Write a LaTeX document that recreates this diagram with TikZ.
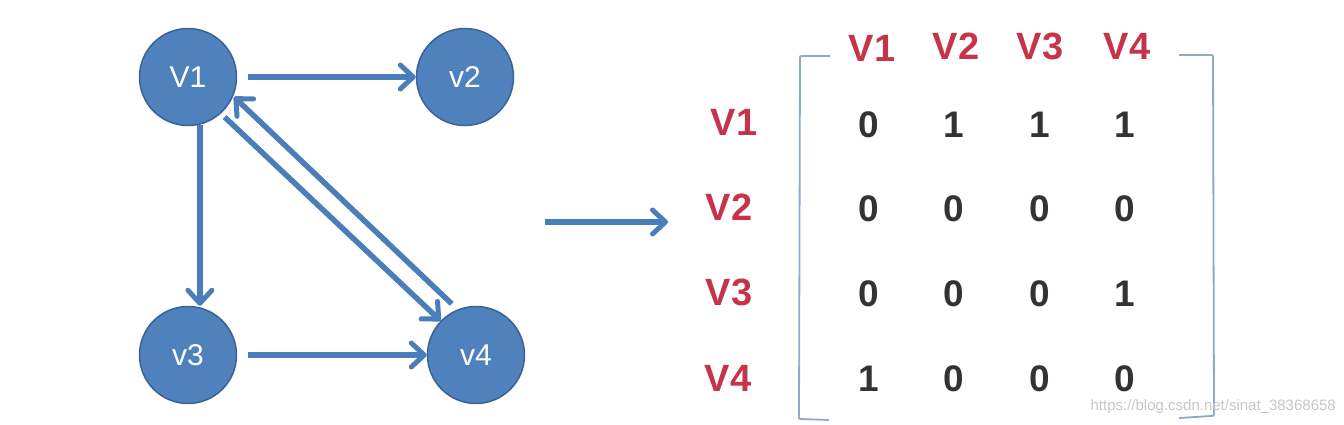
\documentclass[tikz,border=0pt]{standalone}
\usepackage{fontspec}
\setmainfont{Liberation Sans}
\usetikzlibrary{arrows.meta}
\definecolor{nodeblue}{HTML}{4F81BD}
\definecolor{nodeedge}{HTML}{3A6396}
\definecolor{arrowblue}{HTML}{4A7EBB}
\definecolor{hdrred}{HTML}{C5344B}
\definecolor{digit}{HTML}{333333}
\definecolor{bracket}{HTML}{8EA9CB}
\tikzset{
  vertex/.style={circle, fill=nodeblue, draw=nodeedge, line width=1.5pt,
    minimum size=97pt, inner sep=0pt, text=white, font=\fontsize{30}{30}\selectfont},
  edgearrow/.style={draw=arrowblue, line width=5.5pt,
    -{Straight Barb[length=13pt,width=24pt,line width=5pt, round]}},
  hdr/.style={text=hdrred, font=\fontsize{38}{38}\selectfont\bfseries, inner sep=0pt},
  entry/.style={text=digit, font=\fontsize{37}{37}\selectfont\bfseries, inner sep=0pt},
  brk/.style={draw=bracket, line width=1.8pt, line join=round},
}
\begin{document}
\begin{tikzpicture}[x=1pt,y=-1pt]
\useasboundingbox (0,0) rectangle (1344,425);
% vertices
\node[vertex] (v1) at (188,77) {V1};
\node[vertex] (v2) at (465,77) {v2};
\node[vertex] (v3) at (188,355) {v3};
\node[vertex] (v4) at (476,355) {v4};
% edges
\draw[edgearrow, shorten <=11pt] (v1) -- (v2);
\draw[edgearrow] (v1.-76) -- (v1.-76 |- v3.north);
\draw[edgearrow, shorten <=5pt] (v1.-48) -- (v4.136);
\draw[edgearrow, shorten <=8pt, shorten >=1pt] (v4.112) -- (v1.-23);
\draw[edgearrow, shorten <=11pt] (v3) -- (v4);
% big arrow
\coordinate (bs) at (545,222);
\coordinate (be) at (668,222);
\draw[edgearrow] (bs) -- (be);
% brackets
\draw[brk] (830,56) -- (802,56) .. controls (800,56) .. (800,58) -- (799,417) .. controls (799,419) .. (801,419) -- (829,420);
\draw[brk] (1179,55) -- (1211,55) .. controls (1213,55) .. (1213,57) -- (1214,413) .. controls (1214,416) .. (1211,416) -- (1179,418);
% column headers
\node[hdr] (c1) at (872,48) {V1};
\node[hdr] (c2) at (956,46) {V2};
\node[hdr] (c3) at (1040,46) {V3};
\node[hdr] (c4) at (1127,46) {V4};
% row headers
\node[hdr] (r1) at (734,122) {V1};
\node[hdr] (r2) at (729,207) {V2};
\node[hdr] (r3) at (729,292) {V3};
\node[hdr] (r4) at (728,378) {V4};
% entries
\foreach \r/\y/\a/\b/\c/\d in {1/125/0/1/1/1, 2/209/0/0/0/0, 3/294/0/0/0/1, 4/379/1/0/0/0}{
  \node[entry] (m\r1) at (869,\y) {\a};
  \node[entry] (m\r2) at (954,\y) {\b};
  \node[entry] (m\r3) at (1040,\y) {\c};
  \node[entry] (m\r4) at (1125,\y) {\d};
}
% watermark
\node[text=black!22, font=\fontsize{15}{15}\selectfont, anchor=east, inner sep=0pt] (wm) at (1336,407) {https://blog.csdn.net/sinat\_38368658};
\end{tikzpicture}
\end{document}
